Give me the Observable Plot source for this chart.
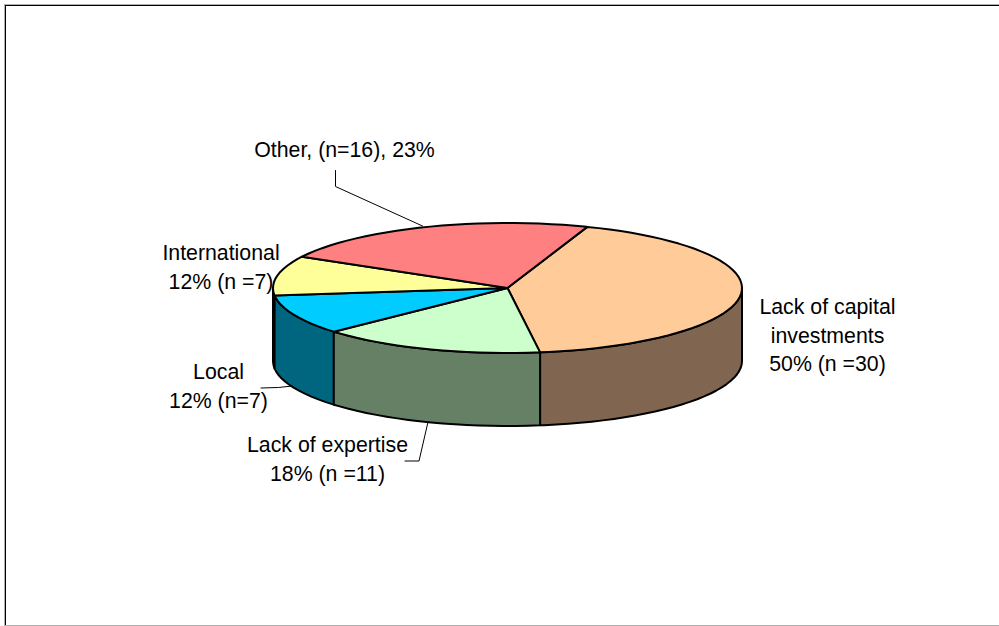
<!DOCTYPE html>
<html>
<head>
<meta charset="utf-8">
<style>html,body{margin:0;padding:0;background:#fff;overflow:hidden}svg{display:block}</style>
<script src="https://cdn.jsdelivr.net/npm/d3@7"></script>
<script src="https://cdn.jsdelivr.net/npm/@observablehq/plot@0.6"></script>
</head>
<body>
<div id="chart"></div>
<script>
// Data
const categories = ["Lack of capital investments", "Lack of expertise", "Local", "International", "Other"];
const counts = [30, 11, 7, 7, 16];
const labels = [
  "Lack of capital\ninvestments\n50% (n =30)",
  "Lack of expertise\n18% (n =11)",
  "Local\n12% (n=7)",
  "International\n12% (n =7)",
  "Other, (n=16), 23%"
];
const topColors = ["#FFCC99", "#CCFFCC", "#00CCFF", "#FFFF99", "#FF8080"];
const sideColors = ["#806650", "#668066", "#006680", "#808050", "#804040"];

// Layout of the 3D pie on the page
const cx = 507, cy = 287.5, rx = 234.5, ry = 65, depth = 73, startDeg = 70.1;
const labelPos = [[827, 333], [327, 457], [218, 384], [220.5, 265], [344, 147.5]];
const leaders = [
  [[335, 170], [335, 186], [422, 225.5]],
  [[260.5, 387.5], [278, 387], [291.5, 385.5]],
  [[404.5, 460.5], [418.5, 460.5], [427.5, 421.5]]
];

const total = d3.sum(counts);
let acc = 0;
const slices = counts.map((c, i) => {
  const a0 = startDeg - acc / total * 360;
  acc += c;
  return {i, a0, a1: startDeg - acc / total * 360};
});
const rim = (deg, drop = 0) => {
  const t = deg * Math.PI / 180;
  return [cx + rx * Math.cos(t), cy - ry * Math.sin(t) + drop];
};
// angles from a (high) to b (low), clockwise
const arc = (a, b) => {
  const pts = d3.range(a, b, -3);
  pts.push(b);
  return pts;
};
const topPoly = s => {
  const p = [[cx, cy], ...arc(s.a0, s.a1).map(d => rim(d))];
  p.push(p[0]);
  return p;
};
// Only the front half (between 0 and -180 degrees) shows a side wall
const sidePoly = s => {
  const a = Math.min(s.a0, 0), b = Math.max(s.a1, -180);
  if (a <= b) return null;
  const pts = arc(a, b);
  const p = [...pts.map(d => rim(d)), ...pts.slice().reverse().map(d => rim(d, depth))];
  p.push(p[0]);
  return p;
};

const polyMark = (pts, fill, sw) => Plot.line(pts, {
  x: d => d[0], y: d => d[1], fill, stroke: "#000", strokeWidth: sw,
  strokeLinejoin: "round", curve: "linear"
});

const marks = [];
// frame
marks.push(Plot.ruleX([4], {stroke: "#b0b0b0", y1: 4, y2: 626}));
marks.push(Plot.ruleY([4], {stroke: "#b0b0b0", x1: 4, x2: 999}));
marks.push(Plot.ruleY([625], {stroke: "#b0b0b0", x1: 4, x2: 999}));
marks.push(Plot.ruleX([5], {stroke: "#000", y1: 5, y2: 625}));
marks.push(Plot.ruleY([5], {stroke: "#000", x1: 5, x2: 999}));
// side walls, back to front
[3, 2, 0, 1].forEach(i => {
  const p = sidePoly(slices[i]);
  if (p) marks.push(polyMark(p, sideColors[i], 2));
});
// slice tops
slices.forEach(s => marks.push(polyMark(topPoly(s), topColors[s.i], 2)));
// leader lines
leaders.forEach(l => marks.push(Plot.line(l, {x: d => d[0], y: d => d[1], stroke: "#000", strokeWidth: 1})));
// labels
marks.push(Plot.text(labels, {
  x: (d, i) => labelPos[i][0], y: (d, i) => labelPos[i][1], text: d => d,
  textAnchor: "middle", lineAnchor: "middle", lineHeight: 1.35,
  fontFamily: "Liberation Sans", fontSize: 21.3, fill: "#000"
}));

const chart = Plot.plot({
  width: 999, height: 626,
  margin: 0,
  x: {domain: [0, 999], range: [0, 999], axis: null},
  y: {domain: [0, 626], range: [0, 626], axis: null},
  style: {background: "#fff"},
  marks
});
document.getElementById("chart").append(chart);
</script>
</body>
</html>
